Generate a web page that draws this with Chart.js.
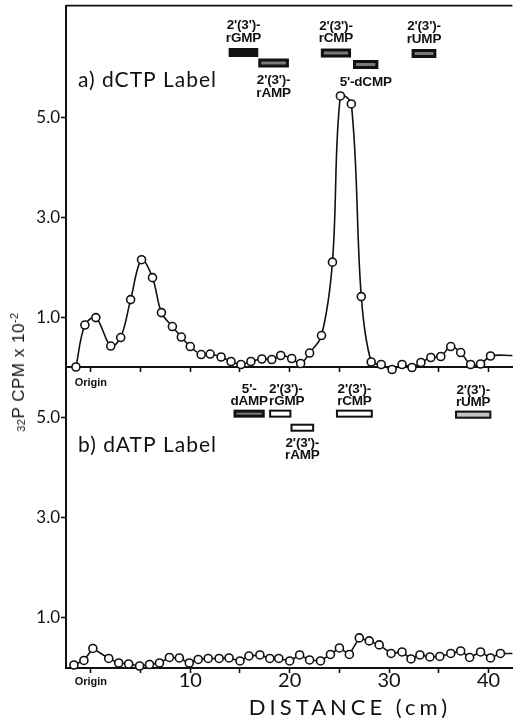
<!DOCTYPE html>
<html>
<head>
<meta charset="utf-8">
<script src="https://cdn.jsdelivr.net/npm/chart.js@4/dist/chart.umd.min.js"></script>
<style>
  html, body { margin: 0; padding: 0; background: #fff; }
  body { width: 518px; height: 718px; position: relative; overflow: hidden; color: #111; }
  canvas { position: absolute; left: 0; }
  #cA { top: 0; }
  #cB { top: 357px; }
  #ytitle {
    position: absolute; left: 19px; top: 372px; white-space: nowrap;
    transform: translate(-50%, -50%) rotate(-90deg);
    font: 17px "Liberation Sans", Arial, sans-serif; letter-spacing: 0.5px; color: #111;
  }
  #ytitle .sm { font-size: 11px; position: relative; }
</style>
</head>
<body>
<canvas id="cA" width="518" height="400"></canvas>
<canvas id="cB" width="518" height="361"></canvas>
<div id="ytitle"><span class="sm" style="top:1px">32</span>P CPM x 10<span class="sm" style="top:-6px">-2</span></div>
<script>
// Distance along the chromatogram (cm) and 32P counts (CPM x 10^-2)
const distA = [-1.5, -0.6, 0.5, 2.0, 3.0, 4.0, 5.1, 6.2, 7.1, 8.2, 9.1, 10.0, 11.1, 12.0, 13.1, 14.1,
  15.1, 16.1, 17.2, 18.2, 19.1, 20.2, 21.1, 22.0, 23.2, 24.3, 25.1, 26.2, 27.2, 28.2, 29.2, 30.3,
  31.3, 32.3, 33.2, 34.2, 35.2, 36.2, 37.2, 38.2, 39.2, 40.2, 42.4];
const cpmA = [0.00, 0.84, 0.99, 0.42, 0.59, 1.35, 2.15, 1.79, 1.09, 0.81, 0.60, 0.41, 0.25, 0.26, 0.20, 0.11,
  0.05, 0.11, 0.16, 0.15, 0.23, 0.17, 0.07, 0.28, 0.63, 2.10, 5.43, 5.27, 1.41, 0.10, 0.05, -0.05,
  0.05, -0.01, 0.09, 0.19, 0.21, 0.41, 0.29, 0.05, 0.06, 0.22, 0.23];

const distB = [-1.7, -0.7, 0.2, 1.8, 2.8, 3.8, 4.9, 5.9, 6.9, 7.9, 8.9, 9.9, 10.8, 11.8, 12.9, 13.9,
  15.0, 15.9, 17.0, 18.0, 18.9, 20.0, 21.0, 22.0, 23.1, 24.1, 25.0, 26.0, 27.0, 28.0, 29.0, 30.2,
  31.3, 32.2, 33.1, 34.1, 35.1, 36.2, 37.2, 38.1, 39.2, 40.2, 41.2, 42.4];
const cpmB = [0.06, 0.15, 0.39, 0.19, 0.10, 0.08, 0.04, 0.07, 0.10, 0.21, 0.20, 0.10, 0.17, 0.19, 0.19, 0.20,
  0.14, 0.24, 0.26, 0.19, 0.19, 0.14, 0.26, 0.16, 0.14, 0.27, 0.40, 0.27, 0.60, 0.54, 0.46, 0.29,
  0.32, 0.18, 0.26, 0.22, 0.23, 0.29, 0.34, 0.21, 0.32, 0.20, 0.29, 0.29];

// Axis ticks
const distTicks = [0, 5, 10, 15, 20, 25, 30, 35, 40];
const distLabels = { 0: 'Origin', 10: '10', 20: '20', 30: '30', 40: '40' };
const cpmTicks = [1, 3, 5];

// Marker nucleotide spots (start / end in cm)
const markNamesA = [["2'(3')-", "rGMP"], ["2'(3')-", "rAMP"], ["2'(3')-", "rCMP"], ["5'-dCMP"], ["2'(3')-", "rUMP"]];
const markFromA = [13.86, 16.84, 23.13, 26.37, 32.26];
const markToA = [16.84, 19.92, 26.17, 28.92, 34.75];

const markNamesB = [["5'-", "dAMP"], ["2'(3')-", "rGMP"], ["2'(3')-", "rAMP"], ["2'(3')-", "rCMP"], ["2'(3')-", "rUMP"]];
const markFromB = [14.35, 17.93, 20.08, 24.65, 36.63];
const markToB = [17.49, 20.17, 22.46, 28.36, 40.28];

const INK = '#111';

// Draws the marker spots with their names
const markerPlugin = {
  id: 'markers',
  afterDatasetsDraw(chart, args, o) {
    const { ctx, scales: { x, y } } = chart;
    ctx.save();
    o.names.forEach((lines, i) => {
      const x0 = x.getPixelForValue(o.from[i]);
      const x1 = x.getPixelForValue(o.to[i]);
      const yc = y.getPixelForValue(o.level[i]);
      const h = o.boxHeight;
      const top = yc - h / 2, bot = yc + h / 2;
      const kind = o.fill[i];
      if (kind === 'solid') {
        ctx.fillStyle = INK; ctx.fillRect(x0, top, x1 - x0, h);
      } else if (kind === 'shaded') {
        ctx.fillStyle = INK; ctx.fillRect(x0, top, x1 - x0, h);
        ctx.fillStyle = '#7a7a7a'; ctx.fillRect(x0 + 3, top + 3, x1 - x0 - 6, h - 6);
      } else {
        ctx.fillStyle = kind === 'light' ? '#c4c4c4' : '#fff';
        ctx.fillRect(x0, top, x1 - x0, h);
        ctx.strokeStyle = INK; ctx.lineWidth = 2;
        ctx.strokeRect(x0 + 1, top + 1, x1 - x0 - 2, h - 2);
      }
      // names
      ctx.fillStyle = INK;
      ctx.font = 'bold 13.5px "Liberation Sans", Arial, sans-serif';
      ctx.letterSpacing = '-0.2px';
      const align = (o.align && o.align[i]) || 'center';
      ctx.textAlign = align;
      ctx.textBaseline = 'middle';
      const xm = align === 'left' ? x0 : (x0 + x1) / 2;
      if (o.side[i] === 'above') {
        lines.forEach((t, k) => {
          ctx.fillText(t, xm, top - o.gapAbove - (lines.length - 1 - k) * o.lineGap);
        });
      } else {
        lines.forEach((t, k) => {
          ctx.fillText(t, xm, bot + o.gapBelow + k * o.lineGap);
        });
      }
    });
    ctx.restore();
  }
};

// Frame line across the top of the plot and free text labels
const framePlugin = {
  id: 'frame',
  afterDraw(chart, args, o) {
    const { ctx, chartArea: a } = chart;
    ctx.save();
    if (o.topLine) {
      ctx.strokeStyle = INK; ctx.lineWidth = 1.6;
      ctx.beginPath(); ctx.moveTo(a.left, a.top); ctx.lineTo(a.right, a.top); ctx.stroke();
    }
    ctx.fillStyle = INK;
    ctx.textBaseline = 'middle';
    (o.texts || []).forEach(t => {
      ctx.font = t.font;
      ctx.letterSpacing = t.spacing || '0px';
      ctx.textAlign = t.align || 'left';
      ctx.fillText(t.text, t.x, t.y);
    });
    ctx.restore();
  }
};

function panel(canvasId, dist, cpm, opts) {
  const last = dist.length - 1;
  return new Chart(document.getElementById(canvasId), {
    type: 'scatter',
    data: {
      datasets: [{
        data: dist.map((d, i) => ({ x: d, y: cpm[i] })),
        showLine: true,
        borderColor: INK,
        borderWidth: 1.6,
        tension: opts.tension,
        pointRadius: c => (c.dataIndex === last ? 0 : 4),
        pointBackgroundColor: '#fff',
        pointBorderColor: INK,
        pointBorderWidth: 1.6,
        clip: false
      }]
    },
    options: {
      responsive: false,
      animation: false,
      events: [],
      layout: { padding: { top: opts.padTop, left: 0, right: 0, bottom: 0 } },
      plugins: {
        legend: { display: false },
        tooltip: { enabled: false },
        markers: opts.markers,
        frame: opts.frame
      },
      scales: {
        x: {
          type: 'linear', min: -2.5, max: 42.4,
          afterBuildTicks(s) { s.ticks = distTicks.map(v => ({ value: v })); },
          afterFit(s) { s.height = opts.xHeight; s.paddingLeft = 0; s.paddingRight = 0; },
          grid: { drawOnChartArea: false, tickLength: 5, tickColor: INK, tickWidth: 1.6 },
          border: { color: INK, width: 2 },
          ticks: {
            autoSkip: false, maxRotation: 0, padding: opts.xPad, color: INK,
            callback: v => (opts.xNumbers ? (distLabels[v] || '') : (v === 0 ? 'Origin' : '')),
            font: c => (c.tick && c.tick.value === 0)
              ? { family: '"Liberation Sans", Arial, sans-serif', size: 11, weight: 'bold', lineHeight: 2.0 }
              : { family: 'Lato, sans-serif', size: 20, lineHeight: 1.0 }
          }
        },
        y: {
          min: 0, max: opts.yMax,
          afterBuildTicks(s) { s.ticks = cpmTicks.map(v => ({ value: v })); },
          afterFit(s) { s.width = 66; s.paddingTop = 0; s.paddingBottom = 0; },
          grid: { drawOnChartArea: false, tickLength: 5, tickColor: INK, tickWidth: 1.6 },
          border: { color: INK, width: 2 },
          ticks: {
            padding: 1, color: INK,
            callback: v => Number(v).toFixed(1),
            font: { family: 'Lato, sans-serif', size: 17 }
          }
        }
      }
    },
    plugins: [markerPlugin, framePlugin]
  });
}

panel('cA', distA, cpmA, {
  tension: 0.35, padTop: 5, xHeight: 33, xPad: 0, xNumbers: false, yMax: 7.24,
  markers: {
    names: markNamesA, from: markFromA, to: markToA,
    level: [6.30, 6.09, 6.29, 6.06, 6.28],
    side: ['above', 'below', 'above', 'below', 'above'],
    fill: ['solid', 'shaded', 'shaded', 'shaded', 'shaded'],
    boxHeight: 9, gapAbove: 10, gapBelow: 13, lineGap: 12.5
  },
  frame: {
    topLine: true,
    texts: [{ text: 'a) dCTP Label', x: 78, y: 80, font: '21px Lato, sans-serif', spacing: '1px' }]
  }
});

panel('cB', distB, cpmB, {
  tension: 0, padTop: 10, xHeight: 50, xPad: -2, xNumbers: true, yMax: 6.0,
  markers: {
    names: markNamesB, from: markFromB, to: markToB,
    level: [5.07, 5.07, 4.79, 5.07, 5.05],
    side: ['above', 'above', 'below', 'above', 'above'],
    fill: ['shaded', 'open', 'open', 'open', 'light'],
    align: ['center', 'left', 'center', 'center', 'center'],
    boxHeight: 8, gapAbove: 8, gapBelow: 11.5, lineGap: 12.3
  },
  frame: {
    topLine: false,
    texts: [
      { text: 'b) dATP Label', x: 78, y: 88, font: '21px Lato, sans-serif', spacing: '1px' },
      { text: 'DISTANCE (cm)', x: 350, y: 351, font: '22px Lato, sans-serif', spacing: '4px', align: 'center' }
    ]
  }
});
</script>
</body>
</html>
